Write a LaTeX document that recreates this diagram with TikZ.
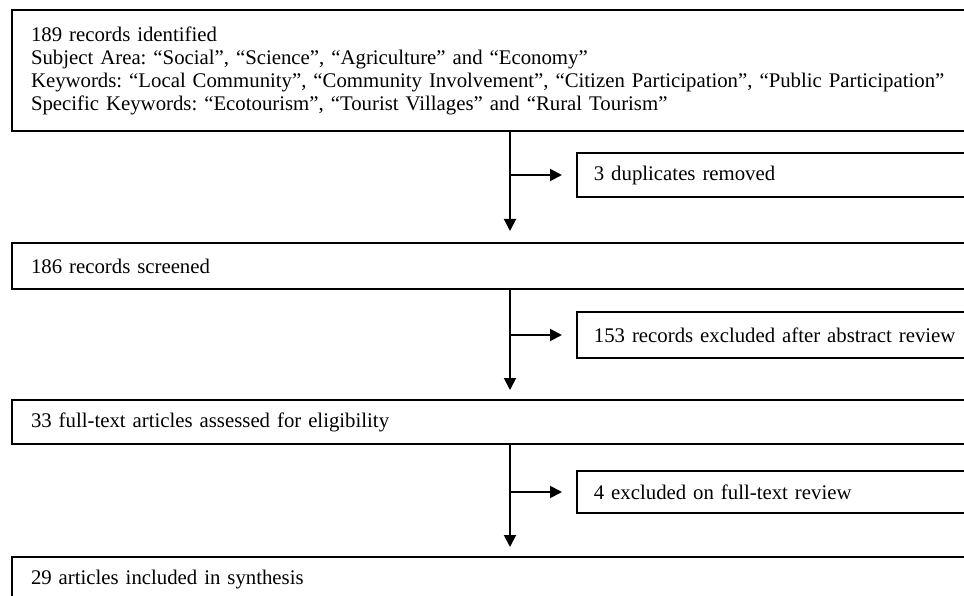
\documentclass[tikz,border=0pt]{standalone}
\usepackage{fontspec}
\setmainfont{Liberation Serif}
\usetikzlibrary{arrows.meta,positioning}
\frenchspacing
\tikzset{
    every node/.style={font=\fontsize{20.8}{23}\selectfont},
    mainbox/.style={draw, line width=2pt, anchor=west, text width=1000pt, inner xsep=19pt, inner ysep=0pt, align=left},
    sidebox/.style={draw, line width=1.8pt, anchor=west, text width=420pt, inner xsep=17pt, inner ysep=0pt, align=left},
    flow/.style={-{Triangle[length=12pt,width=12pt]}, line width=1.9pt},
}

\begin{document}
\begin{tikzpicture}[x=1pt, y=-1pt]
    \useasboundingbox (0,0) rectangle (964,596);

    \node [mainbox, minimum height=121pt] (ident) at (11,70.5) {189 records identified\\
        Subject Area: “Social”, “Science”, “Agriculture” and “Economy”\\
        Keywords: “Local Community”, “Community Involvement”, “Citizen Participation”, “Public Participation”\\
        Specific Keywords: “Ecotourism”, “Tourist Villages” and “Rural Tourism”};
    \node [mainbox, minimum height=46pt] (screen) at (11,266) {186 records screened};
    \node [mainbox, minimum height=44pt] (assess) at (11,422) {33 full-text articles assessed for eligibility};
    \node [mainbox, minimum height=46pt] (incl) at (11,580) {29 articles included in synthesis};

    \node [sidebox, minimum height=44pt] (dup) at (576,175) {3 duplicates removed};
    \node [sidebox, minimum height=46pt] (absx) at (576,335) {153 records excluded after abstract review};
    \node [sidebox, minimum height=42pt] (ftx) at (576,492) {4 excluded on full-text review};

    \coordinate (spine) at (510,0);

    % main flow
    \draw [flow, shorten >=11pt] (spine |- ident.south) -- (spine |- screen.north);
    \draw [flow, shorten >=9pt] (spine |- screen.south) -- (spine |- assess.north);
    \draw [flow, shorten >=9pt] (spine |- assess.south) -- (spine |- incl.north);

    % exclusions
    \foreach \s in {dup,absx,ftx}
        \draw [flow, shorten >=14pt] (spine |- \s.west) -- (\s.west);
\end{tikzpicture}
\end{document}
